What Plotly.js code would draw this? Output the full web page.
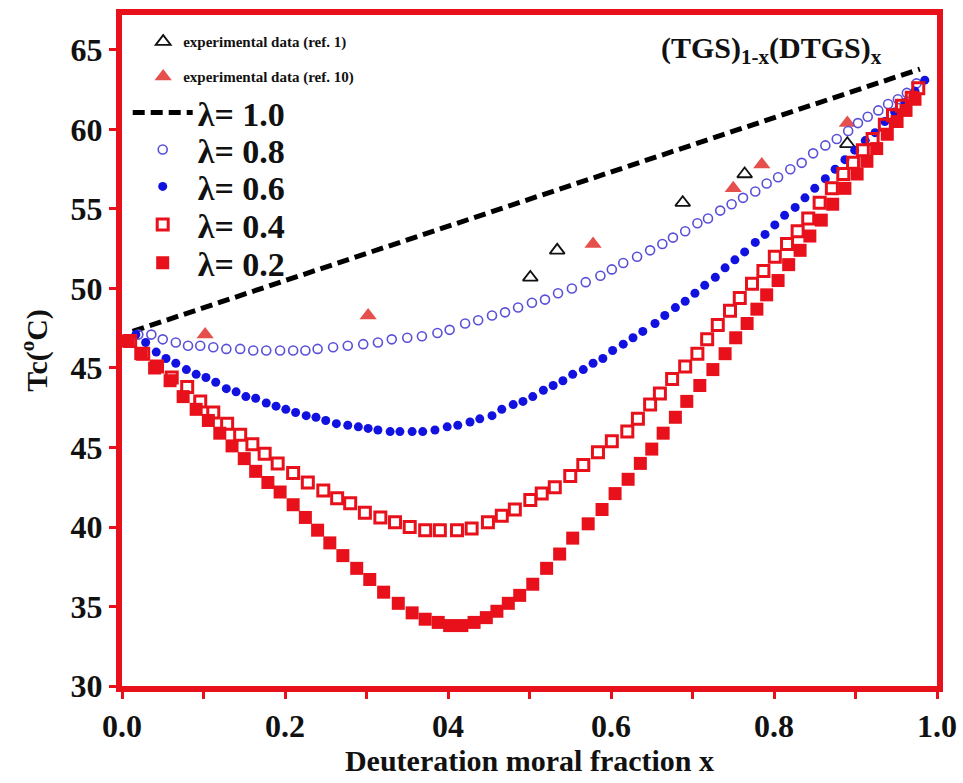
<!DOCTYPE html>
<html><head><meta charset="utf-8">
<script src="https://cdn.plot.ly/plotly-3.0.1.min.js"></script>
<style>html,body{margin:0;padding:0;background:#fff;} #chart{width:963px;height:783px;}</style>
</head><body><div id="chart"></div>
<script>
// x tick labels (as printed in the original, including the "04" typo)
const xTickVals = [0,0.2,0.4,0.6,0.8,1.0];
const xTickText = ["0.0","0.2","04","0.6","0.8","1.0"];
const xMinorVals = [0.1,0.3,0.5,0.7,0.9];
// y tick labels as printed (the original repeats "45"); values are plotted positions
const yTickVals = [30,35,40,45,50,55,60,65,70];
const yTickText = ["30","35","40","45","45","50","55","60","65"];

// experimental data
const ref1X = [0.501,0.534,0.688,0.764,0.890];
const ref1Y = [55.7,57.4,60.4,62.2,64.1];
const ref10X = [0.102,0.302,0.578,0.750,0.785,0.890];
const ref10Y = [52.1,53.3,57.8,61.3,62.8,65.4];

// lambda = 1.0 (dashed line)
const lam10X = [0.013,0.979];
const lam10Y = [52.3,68.8];

// lambda = 0.8 (open circles)
const lam08X = [0.020,0.036,0.050,0.066,0.081,0.096,0.112,0.128,0.145,0.161,0.177,0.194,0.210,0.225,0.240,0.259,0.277,0.296,0.314,0.331,0.350,0.368,0.387,0.402,0.421,0.437,0.454,0.470,0.486,0.503,0.519,0.535,0.552,0.569,0.587,0.601,0.615,0.632,0.648,0.663,0.676,0.691,0.706,0.719,0.734,0.748,0.762,0.777,0.791,0.805,0.820,0.834,0.848,0.863,0.877,0.891,0.903,0.915,0.928,0.940,0.952,0.963,0.975];
const lam08Y = [52.1,52.1,51.8,51.6,51.4,51.4,51.3,51.2,51.2,51.1,51.1,51.1,51.1,51.1,51.2,51.3,51.4,51.5,51.6,51.8,51.9,52.0,52.2,52.4,52.8,53.0,53.3,53.5,53.8,54.1,54.3,54.7,55.0,55.4,55.8,56.2,56.6,57.0,57.4,57.8,58.2,58.6,59.1,59.4,59.9,60.3,60.7,61.1,61.6,62.0,62.5,62.9,63.5,64.0,64.4,64.9,65.4,65.8,66.2,66.6,66.9,67.3,67.9];

// lambda = 0.6 (filled circles)
const lam06X = [0.017,0.029,0.042,0.054,0.066,0.079,0.091,0.103,0.115,0.128,0.140,0.152,0.164,0.177,0.189,0.201,0.213,0.226,0.238,0.250,0.263,0.277,0.290,0.302,0.314,0.329,0.341,0.356,0.369,0.384,0.399,0.412,0.427,0.439,0.454,0.466,0.480,0.492,0.504,0.517,0.529,0.541,0.553,0.566,0.578,0.590,0.602,0.615,0.627,0.639,0.654,0.666,0.679,0.691,0.703,0.715,0.728,0.740,0.752,0.764,0.777,0.789,0.801,0.813,0.826,0.838,0.850,0.863,0.875,0.887,0.899,0.912,0.924,0.936,0.948,0.961,0.973,0.985];
const lam06Y = [52.1,51.6,51.0,50.6,50.3,49.9,49.6,49.4,49.1,48.7,48.5,48.2,48.1,47.8,47.6,47.4,47.2,47.0,46.9,46.7,46.5,46.4,46.3,46.2,46.1,46.0,46.0,46.0,46.0,46.1,46.3,46.4,46.6,46.8,47.0,47.4,47.7,47.9,48.2,48.6,48.9,49.2,49.6,49.9,50.3,50.6,51.1,51.5,51.9,52.3,52.8,53.3,53.8,54.2,54.7,55.2,55.7,56.3,56.8,57.3,57.9,58.4,59.0,59.6,60.1,60.7,61.3,61.9,62.5,63.1,63.7,64.3,64.8,65.5,66.1,66.7,67.4,68.1];

// lambda = 0.4 (open squares)
const lam04X = [0.010,0.026,0.043,0.061,0.080,0.096,0.112,0.129,0.145,0.160,0.175,0.191,0.210,0.228,0.247,0.264,0.280,0.298,0.317,0.335,0.353,0.372,0.390,0.411,0.429,0.449,0.466,0.482,0.501,0.515,0.531,0.550,0.566,0.584,0.601,0.620,0.633,0.648,0.660,0.675,0.691,0.706,0.718,0.731,0.746,0.758,0.773,0.787,0.801,0.816,0.829,0.842,0.856,0.871,0.885,0.897,0.909,0.921,0.936,0.946,0.957,0.969,0.977];
const lam04Y = [51.7,50.9,50.1,49.4,48.8,47.9,47.2,46.5,45.8,45.2,44.6,44.0,43.4,42.8,42.3,41.8,41.5,40.9,40.6,40.3,40.0,39.8,39.8,39.8,39.9,40.3,40.7,41.1,41.7,42.1,42.5,43.2,43.9,44.7,45.4,46.0,46.8,47.7,48.4,49.3,50.1,50.9,51.8,52.7,53.6,54.4,55.3,56.1,57.0,57.8,58.6,59.4,60.4,61.3,62.2,62.9,63.7,64.4,65.3,65.9,66.5,67.0,67.6];

// lambda = 0.2 (filled squares)
const lam02X = [0.007,0.023,0.040,0.059,0.075,0.091,0.106,0.120,0.135,0.150,0.164,0.179,0.194,0.210,0.225,0.240,0.255,0.271,0.288,0.304,0.321,0.339,0.356,0.372,0.388,0.402,0.417,0.432,0.447,0.460,0.474,0.488,0.504,0.521,0.537,0.553,0.572,0.589,0.605,0.621,0.636,0.650,0.664,0.679,0.693,0.709,0.725,0.740,0.753,0.767,0.779,0.791,0.805,0.818,0.832,0.844,0.858,0.872,0.887,0.902,0.914,0.926,0.939,0.951,0.962,0.973];
const lam02Y = [51.7,50.9,50.0,49.2,48.2,47.4,46.7,45.9,45.1,44.3,43.5,42.8,42.2,41.4,40.6,39.8,39.0,38.2,37.4,36.7,35.9,35.2,34.6,34.2,34.0,33.8,33.8,34.0,34.3,34.7,35.2,35.7,36.4,37.4,38.3,39.3,40.2,41.1,42.1,43.0,44.0,44.9,45.9,46.9,47.9,48.9,49.9,50.9,51.9,52.8,53.7,54.6,55.5,56.5,57.4,58.3,59.3,60.3,61.3,62.2,63.0,63.8,64.7,65.5,66.2,66.9];

const FONT = "Liberation Serif, 'Times New Roman', serif";
const RED = "#e8101a";

const traces = [
  {x: ref1X, y: ref1Y, mode: 'markers', name: 'experimental data (ref. 1)', legend: 'legend',
   marker: {symbol: 'triangle-up-open', size: 13, color: '#111', line: {width: 1.8, color: '#111'}}},
  {x: ref10X, y: ref10Y, mode: 'markers', name: 'experimental data (ref. 10)', legend: 'legend2',
   marker: {symbol: 'triangle-up', size: 15, color: '#e5504d'}},
  {x: lam10X, y: lam10Y, mode: 'lines', name: 'λ= 1.0', legend: 'legend3',
   line: {color: '#000', width: 5, dash: '12px,6px'}},
  {x: lam08X, y: lam08Y, mode: 'markers', name: 'λ= 0.8', legend: 'legend4',
   marker: {symbol: 'circle-open', size: 9, color: '#5a50d8', line: {width: 1.6, color: '#5a50d8'}}},
  {x: lam06X, y: lam06Y, mode: 'markers', name: 'λ= 0.6', legend: 'legend5',
   marker: {symbol: 'circle', size: 9, color: '#1212e0'}},
  {x: lam04X, y: lam04Y, mode: 'markers', name: 'λ= 0.4', legend: 'legend6',
   marker: {symbol: 'square-open', size: 11, color: RED, line: {width: 3, color: RED}}},
  {x: lam02X, y: lam02Y, mode: 'markers', name: 'λ= 0.2', legend: 'legend7',
   marker: {symbol: 'square', size: 13, color: RED}}
];

function leg(x, y, size, w) {
  return {x: x, y: y, xanchor: 'left', yanchor: 'middle', bgcolor: 'rgba(0,0,0,0)', borderwidth: 0,
          itemwidth: w, font: {family: FONT, size: size, color: '#111', weight: 'bold'}};
}

const axisCommon = {
  showline: true, linecolor: RED, linewidth: 6, mirror: true,
  ticks: 'outside', ticklen: 7, tickwidth: 3, tickcolor: RED,
  showgrid: false, zeroline: false,
  tickfont: {family: FONT, size: 32, color: '#111', weight: 'bold'}
};

const layout = {
  width: 963, height: 783,
  margin: {l: 122, r: 26, t: 15, b: 97},
  paper_bgcolor: '#fff', plot_bgcolor: '#fff',
  showlegend: true,
  xaxis: Object.assign({}, axisCommon, {
    range: [0, 1.0], tickmode: 'array', tickvals: xTickVals, ticktext: xTickText,
    minor: {tickmode: 'array', tickvals: xMinorVals, ticks: 'outside', ticklen: 7, tickwidth: 3, tickcolor: RED, showgrid: false},
    title: {text: 'Deuteration moral fraction x', font: {family: FONT, size: 30, color: '#111', weight: 'bold'}, standoff: 8}
  }),
  yaxis: Object.assign({}, axisCommon, {
    range: [30, 72.2], tickmode: 'array', tickvals: yTickVals, ticktext: yTickText,
    title: {text: 'Tc(<sup>o</sup>C)', font: {family: FONT, size: 30, color: '#111', weight: 'bold'}, standoff: 16}
  }),
  legend: leg(0.026, 0.960, 15, 30),
  legend2: leg(0.026, 0.908, 15, 30),
  legend3: leg(0.007, 0.854, 34, 60),
  legend4: leg(0.007, 0.799, 34, 60),
  legend5: leg(0.007, 0.744, 34, 60),
  legend6: leg(0.007, 0.687, 34, 60),
  legend7: leg(0.007, 0.630, 34, 60),
  annotations: [{
    xref: 'paper', yref: 'paper', x: 0.797, y: 0.948, xanchor: 'center', yanchor: 'middle',
    showarrow: false, text: '(TGS)<sub>1-x</sub>(DTGS)<sub>x</sub>',
    font: {family: FONT, size: 30, color: '#111', weight: 'bold'}
  }]
};

Plotly.newPlot('chart', traces, layout, {displayModeBar: false, staticPlot: true});
</script>
</body></html>
